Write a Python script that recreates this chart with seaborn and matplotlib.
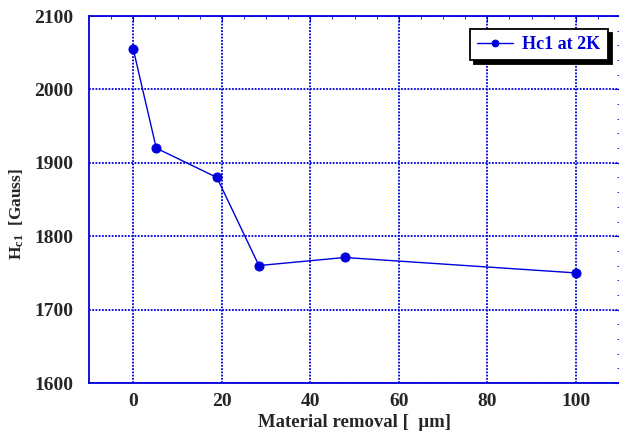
import matplotlib
matplotlib.use("Agg")
import matplotlib.pyplot as plt
from matplotlib.ticker import MultipleLocator
import seaborn as sns
import pandas as pd

removal_um = [0, 5.2, 18.9, 28.4, 47.8, 100]
hc1_gauss = [2055, 1920, 1880, 1760, 1771, 1750]
series_name = "Hc1 at 2K"

sns.set_style("white")
plt.rcParams["font.family"] = ["Liberation Serif", "DejaVu Serif"]
plt.rcParams["mathtext.fontset"] = "custom"
plt.rcParams["mathtext.rm"] = "Liberation Serif:bold"
plt.rcParams["mathtext.it"] = "Liberation Serif:bold"
plt.rcParams["mathtext.bf"] = "Liberation Serif:bold"

blue = "#0000dd"
df = pd.DataFrame({"x": removal_um, "y": hc1_gauss})

fig = plt.figure(figsize=(6.19, 4.37), dpi=100)
ax = fig.add_axes([89 / 619, 1 - 383 / 437, (620 - 89) / 619, (383 - 16) / 437])

sns.lineplot(data=df, x="x", y="y", ax=ax, color=blue, lw=1.0,
             marker="o", markersize=6.5, markeredgecolor=blue, label=series_name)

ax.set_xlim(-10, 110)
ax.set_ylim(1600, 2100)
ax.xaxis.set_major_locator(MultipleLocator(20))
ax.xaxis.set_minor_locator(MultipleLocator(5))
ax.yaxis.set_major_locator(MultipleLocator(100))
ax.yaxis.set_minor_locator(MultipleLocator(20))

ax.grid(True, which="major", color=blue, linestyle=(0, (1, 0.8)), lw=1.3)
for s in ax.spines.values():
    s.set_color(blue)
    s.set_linewidth(1.3)
ax.tick_params(which="both", direction="in", color=blue, top=True, right=True,
               labelsize=14)
ax.tick_params(axis="y", which="major", pad=11)
ax.tick_params(axis="x", which="major", pad=7)
ax.tick_params(which="major", length=4)
ax.tick_params(which="minor", length=2)
for lab in ax.get_xticklabels() + ax.get_yticklabels():
    lab.set_fontweight("bold")

ax.set_xlabel("Material removal [  \u03bcm]", fontsize=13.5, fontweight="bold",
              labelpad=3)
ax.set_ylabel("H$_{\\mathregular{c1}}$  [Gauss]", fontsize=12.5, fontweight="bold")
ax.yaxis.set_label_coords(-0.119, 0.46)

leg = ax.legend(loc="upper right", bbox_to_anchor=(0.977, 0.965), borderaxespad=0,
                frameon=True,
                shadow={"color": "black", "alpha": 1.0, "ox": 3, "oy": -3},
                fancybox=False, prop={"weight": "bold", "size": 13},
                handlelength=2.0, borderpad=0.4, handletextpad=0.5,
                markerscale=0.75)
leg.get_frame().set_edgecolor("black")
leg.get_frame().set_linewidth(1.3)
for t in leg.get_texts():
    t.set_color(blue)

fig.savefig("out.png", dpi=100)
